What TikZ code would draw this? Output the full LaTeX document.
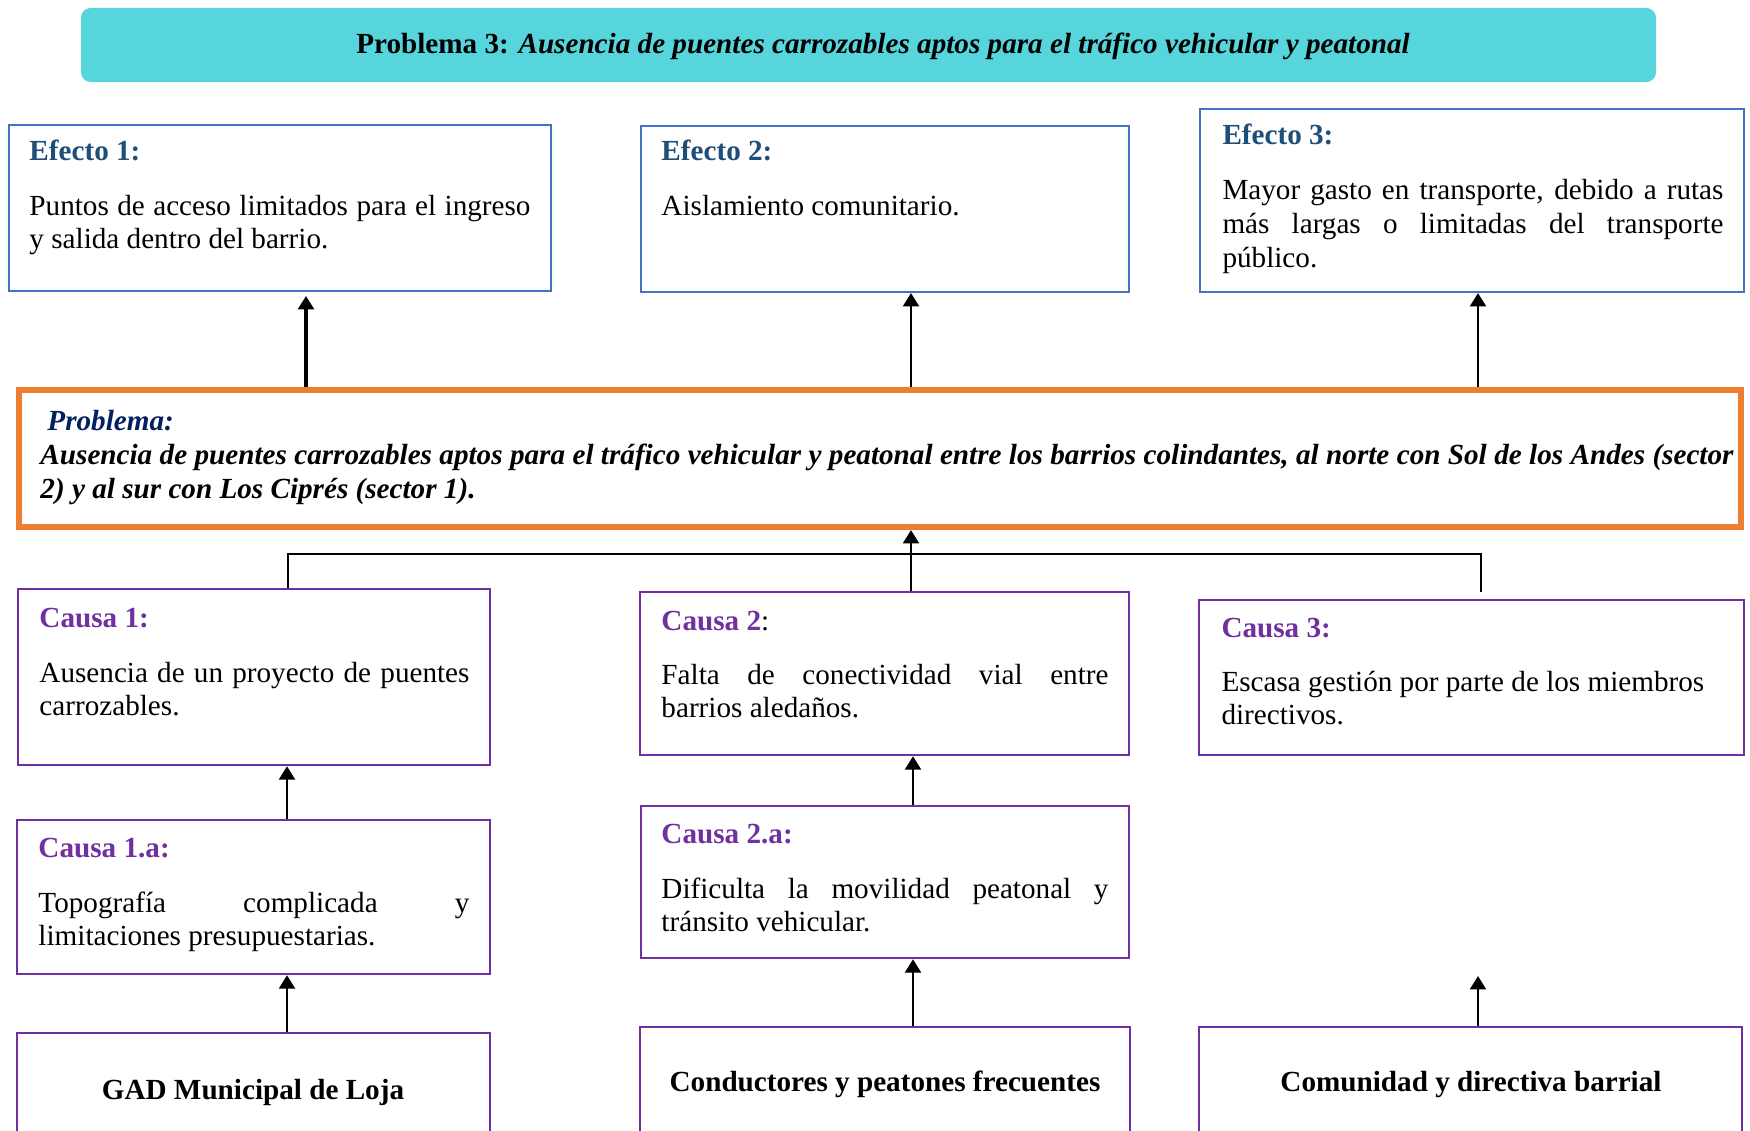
\documentclass[tikz,border=0pt]{standalone}
\usepackage{fontspec}
\setmainfont{Liberation Serif}
\usetikzlibrary{arrows.meta}
\newlength\pxu
\setlength\pxu{0.41143pt}
\definecolor{bannercyan}{RGB}{87,213,220}
\definecolor{effblue}{RGB}{68,114,196}
\definecolor{headblue}{RGB}{31,78,121}
\definecolor{probora}{RGB}{237,125,49}
\definecolor{probnavy}{RGB}{0,32,96}
\definecolor{caupurple}{RGB}{112,48,160}
\newcommand\effhead[1]{\textbf{\textcolor{headblue}{#1}}}
\newcommand\cauhead[1]{\textbf{\textcolor{caupurple}{#1}}}
\newcommand\jline[2]{\hbox to #1\pxu{#2}}
\begin{document}
\begin{tikzpicture}[x=0.41143pt,y=-0.41143pt,
  ebox/.style={draw=effblue,line width=0.85pt,rectangle,inner sep=0pt},
  cbox/.style={draw=caupurple,line width=1pt,rectangle,inner sep=0pt},
  pbox/.style={draw=probora,line width=2.5pt,rectangle,inner sep=0pt},
  banner/.style={fill=bannercyan,rounded corners=4pt,rectangle,inner sep=0pt},
  txt/.style={inner sep=0pt,anchor=base west,font=\fontsize{12pt}{13.8pt}\selectfont},
  ctxt/.style={inner sep=0pt,anchor=base,font=\fontsize{12pt}{13.8pt}\selectfont\bfseries},
  arr/.style={draw,line width=1.1pt,-{Triangle[width=6.5pt,length=5.5pt]}},
  thickarr/.style={arr,line width=1.6pt},
  conn/.style={draw,line width=1.1pt}]
\clip (0,0) rectangle (1750,1131);
\fill[white] (0,0) rectangle (1750,1131);

% banner
\node[banner,minimum width=1575*\pxu,minimum height=74*\pxu] (ban) at (868.5,45) {};
\node[ctxt] (bant) at (883,54) {Problema 3: \textit{Ausencia de puentes carrozables aptos para el tráfico vehicular y peatonal}};

% effects
\node[ebox,minimum width=542*\pxu,minimum height=166*\pxu] (e1) at (280,208) {};
\node[txt] (e1h) at (29,161) {\effhead{Efecto 1:}};
\node[txt] (e1b) at (29,215) {\vtop{\jline{501}{Puntos de acceso limitados para el ingreso}\hbox{y salida dentro del barrio.}}};

\node[ebox,minimum width=488*\pxu,minimum height=166*\pxu] (e2) at (885,209) {};
\node[txt] (e2h) at (661,161) {\effhead{Efecto 2:}};
\node[txt] (e2b) at (661,216) {Aislamiento comunitario.};

\node[ebox,minimum width=544*\pxu,minimum height=183*\pxu] (e3) at (1472,200.5) {};
\node[txt] (e3h) at (1222,145) {\effhead{Efecto 3:}};
\node[txt] (e3b) at (1222,200) {\vtop{\jline{501}{Mayor gasto en transporte, debido a rutas}\jline{501}{más largas o limitadas del transporte}\hbox{público.}}};

% problem
\node[pbox,minimum width=1722*\pxu,minimum height=137*\pxu] (prob) at (880,458.5) {};
\node[txt] (probh) at (47,430) {\textbf{\textit{\textcolor{probnavy}{Problema:}}}};
\node[txt,font=\fontsize{12pt}{14pt}\selectfont\bfseries\itshape] (probb) at (40,464) {\vtop{\jline{1693}{Ausencia de puentes carrozables aptos para el tráfico vehicular y peatonal entre los barrios colindantes, al norte con Sol de los Andes (sector}\hbox{2) y al sur con Los Ciprés (sector 1).}}};

% causes
\node[cbox,minimum width=472*\pxu,minimum height=176*\pxu] (c1) at (254,677) {};
\node[txt] (c1h) at (39,627) {\cauhead{Causa 1:}};
\node[txt] (c1b) at (39,682) {\vtop{\jline{430}{Ausencia de un proyecto de puentes}\hbox{carrozables.}}};

\node[cbox,minimum width=473*\pxu,minimum height=154*\pxu] (c1a) at (253.5,897) {};
\node[txt] (c1ah) at (38,857) {\cauhead{Causa 1.a:}};
\node[txt] (c1ab) at (38,912) {\vtop{\jline{431}{Topografía \hfil complicada \hfil y}\hbox{limitaciones presupuestarias.}}};

\node[cbox,minimum width=473*\pxu,minimum height=127*\pxu] (gad) at (253.5,1096.5) {};
\node[ctxt] (gadt) at (253,1099) {GAD Municipal de Loja};

\node[cbox,minimum width=489*\pxu,minimum height=163*\pxu] (c2) at (884.5,673.5) {};
\node[txt] (c2h) at (661,630) {\cauhead{Causa 2}:};
\node[txt] (c2b) at (661,684) {\vtop{\jline{447}{Falta de conectividad vial entre}\hbox{barrios aledaños.}}};

\node[cbox,minimum width=488*\pxu,minimum height=152*\pxu] (c2a) at (885,882) {};
\node[txt] (c2ah) at (661,843) {\cauhead{Causa 2.a:}};
\node[txt] (c2ab) at (661,898) {\vtop{\jline{447}{Dificulta la movilidad peatonal y}\hbox{tránsito vehicular.}}};

\node[cbox,minimum width=490*\pxu,minimum height=133*\pxu] (cond) at (885,1093.5) {};
\node[ctxt] (condt) at (885,1091) {Conductores y peatones frecuentes};

\node[cbox,minimum width=545*\pxu,minimum height=155*\pxu] (c3) at (1471.5,677.5) {};
\node[txt] (c3h) at (1221,637) {\cauhead{Causa 3:}};
\node[txt] (c3b) at (1221,691) {\vtop{\hbox{Escasa gestión por parte de los miembros}\hbox{directivos.}}};

\node[cbox,minimum width=543*\pxu,minimum height=133*\pxu] (com) at (1470.5,1093.5) {};
\node[ctxt] (comt) at (1471,1091) {Comunidad y directiva barrial};

% connectors
\coordinate (xa) at (306,0);
\coordinate (xb) at (911,0);
\coordinate (xc) at (1478,0);
\coordinate (e1tip) at (306,296);
\draw[thickarr] (prob.north -| xa) -- (e1tip);
\draw[arr] (prob.north -| xb) -- (e2.south -| xb);
\draw[arr] (prob.north -| xc) -- (e3.south -| xc);

\coordinate (hl) at (288,554);
\coordinate (hr) at (1481,554);
\coordinate (c3t) at (1481,592);
\draw[conn] (c1.north -| hl) -- (hl) -- (hr) -- (c3t);
\draw[arr] (c2.north -| xb) -- (prob.south -| xb);

\coordinate (xd) at (287,0);
\coordinate (xe) at (913,0);
\draw[arr] (c1a.north -| xd) -- (c1.south -| xd);
\draw[arr] (gad.north -| xd) -- (c1a.south -| xd);
\draw[arr] (c2a.north -| xe) -- (c2.south -| xe);
\draw[arr] (cond.north -| xe) -- (c2a.south -| xe);
\coordinate (comtip) at (1478,976);
\draw[arr] (com.north -| comtip) -- (comtip);
\end{tikzpicture}
\end{document}
